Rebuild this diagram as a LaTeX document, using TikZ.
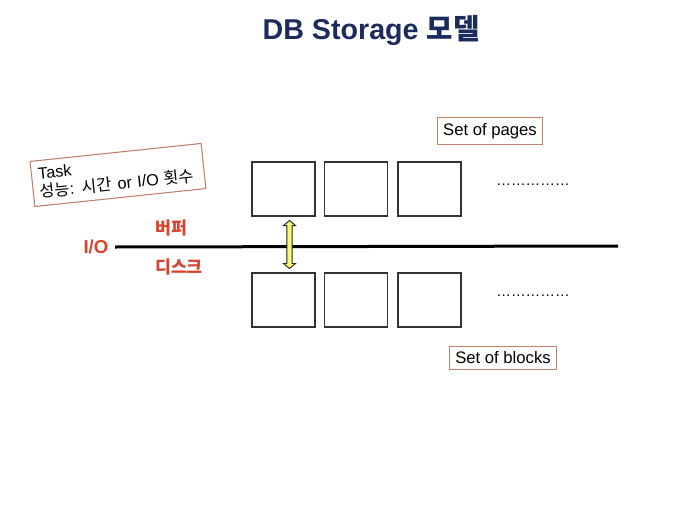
\documentclass[tikz,border=0pt]{standalone}
\usepackage{fontspec}
\setmainfont{Liberation Sans}
\newfontfamily\kr{Noto Sans CJK KR}
\usetikzlibrary{shapes.arrows}

\definecolor{titleblue}{HTML}{1C2B5E}
\definecolor{iored}{HTML}{D4442E}
\definecolor{boxbrown}{HTML}{C0826A}

\tikzset{
  page/.style={draw=black!80, line width=0.9pt, minimum width=47.25pt, minimum height=40.5pt, inner sep=0pt},
  tag/.style={draw=boxbrown, line width=0.8pt, fill=white, font=\fontsize{12.5}{14}\selectfont, inner sep=4pt},
  redlabel/.style={text=iored, font=\bfseries\fontsize{13}{15}\selectfont}
}

\begin{document}
\begin{tikzpicture}[x=0.75pt, y=-0.75pt]
  \useasboundingbox (0,0) rectangle (700,525);

  % title
  \node (title) at (371,30) {\color{titleblue}\bfseries\fontsize{21.5}{25}\selectfont DB Storage {\kr\bfseries 모델}};

  % task note
  \node[tag, rotate=6, align=left, minimum width=129pt, minimum height=34pt, inner xsep=5pt, inner ysep=3pt, text width=119pt, font=\fontsize{12.2}{13.8}\selectfont] (task) at (118,175)
    {Task\\{\kr 성능}: {\kr 시간} or I/O {\kr 횟수}};

  % buffer / disk
  \node[text=iored, font=\bfseries\fontsize{14}{16}\selectfont, anchor=east, inner sep=1pt] (io) at (110,247) {I/O};
  \coordinate (lineend) at (618,246);
  \draw[line width=2.25pt] (io.east) ++(5,0) coordinate (linestart) -- (lineend);
  \node[redlabel] (buf) at (171,228) {\kr\bfseries 버퍼};
  \node[redlabel] (disk) at (179,267) {\kr\bfseries 디스크};

  \foreach \i/\x in {1/283.5, 2/356, 3/429.5} {
    \node[page] (p\i) at (\x,189) {};
    \node[page] (b\i) at (\x,300) {};
  }
  \node (pdots) at (533,185) {\fontsize{11}{12}\selectfont ……………};
  \node (bdots) at (533,296) {\fontsize{11}{12}\selectfont ……………};

  \node[tag] (pages) at (490,131) {Set of pages};
  \node[tag] (blocks) at (503,358) {Set of blocks};

  % page <-> block transfer
  \path ([xshift=4.5]p1.south) -- ([xshift=4.5]b1.north)
    node[midway, double arrow, draw=black!85, line width=0.7pt, fill=yellow!55, rotate=90,
         minimum height=36pt, minimum width=9pt, inner sep=1pt,
         double arrow head extend=1.8pt, double arrow tip angle=100] (xfer) {};
\end{tikzpicture}
\end{document}
